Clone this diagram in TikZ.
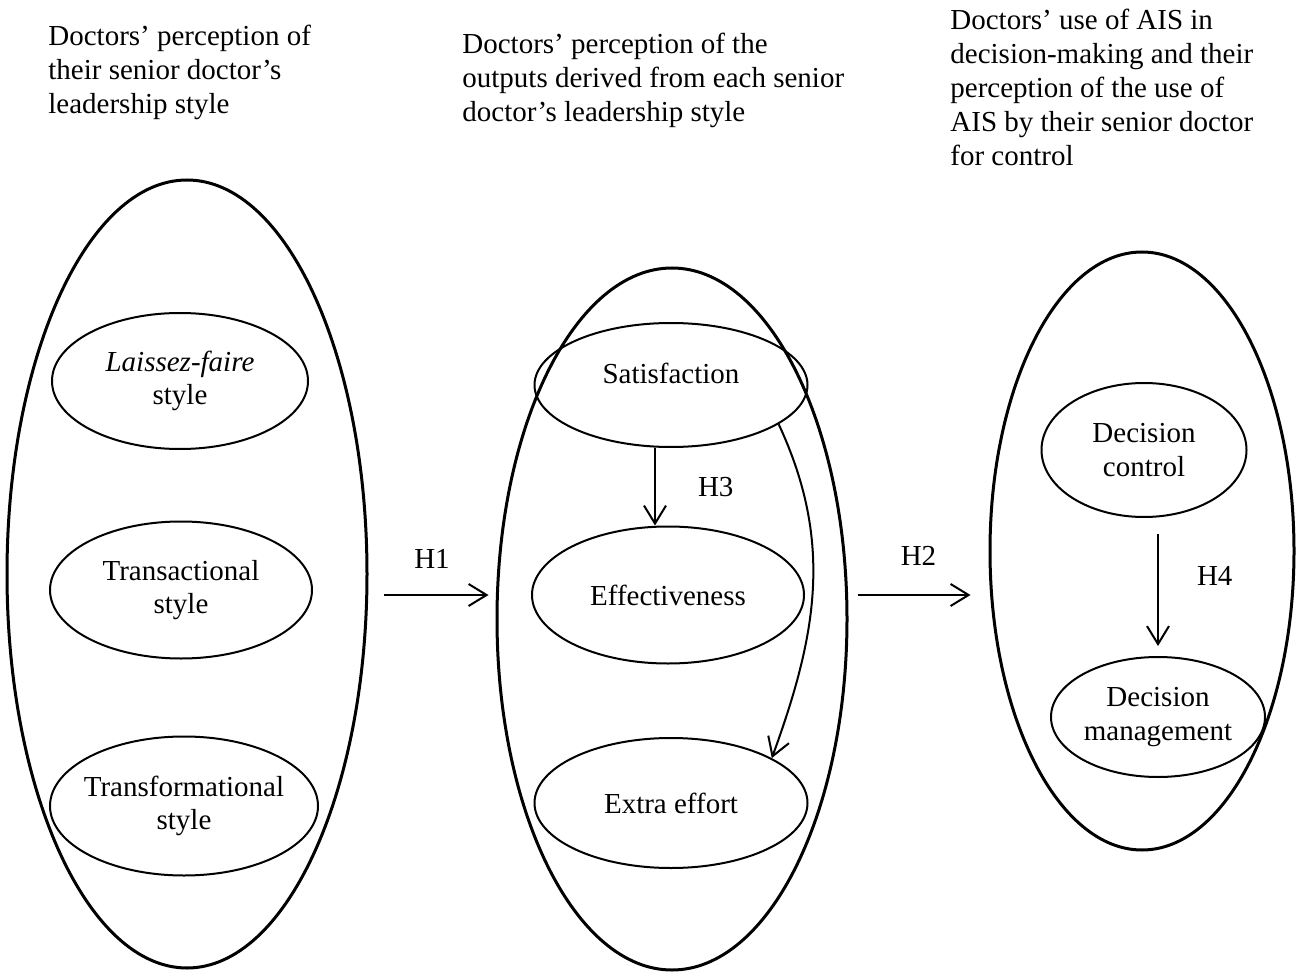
\documentclass[tikz,border=0pt]{standalone}
\usepackage{fontspec}
\setmainfont{Liberation Serif}
\usetikzlibrary{arrows.meta, positioning, shapes.geometric}

\begin{document}
\begin{tikzpicture}[
  x=0.5pt, y=-0.5pt,
  font=\fontsize{14.5}{16.9}\selectfont,
  hdr/.style={anchor=north west, align=left, inner sep=0pt},
  grp/.style={draw, ellipse, line width=1.5pt, inner sep=0pt},
  var/.style={draw, ellipse, line width=1pt, align=center,
              inner xsep=-20pt, inner ysep=0pt},
  hyp/.style={-{Straight Barb[length=9pt, width=11pt]}, line width=1pt},
  hlab/.style={inner sep=0pt},
]
\useasboundingbox (0,0) rectangle (1296,973);

\node[hdr] (hdrstyles) at (48,25) {Doctors' perception of\\ their senior doctor's\\ leadership style};
\node[hdr] (hdroutputs) at (462,33) {Doctors' perception of the\\ outputs derived from each senior\\ doctor's leadership style};
\node[hdr] (hdrais) at (950,9) {Doctors' use of AIS in\\ decision-making and their\\ perception of the use of\\ AIS by their senior doctor\\ for control};

\node[grp, minimum width=180pt, minimum height=394pt] (styles) at (187,574) {};
\node[grp, minimum width=175pt, minimum height=351pt] (outputs) at (672,619) {};
\node[grp, minimum width=152pt, minimum height=299pt] (ais) at (1142,551) {};

\node[var, minimum width=128pt, minimum height=68pt] (laissez) at (180,381) {\textit{Laissez-faire}\\ style};
\node[var, minimum width=131pt, minimum height=68.5pt] (transact) at (181,590) {Transactional\\ style};
\node[var, minimum width=134pt, minimum height=69.5pt] (transform) at (184,806) {Transformational\\ style};

\node[var, minimum width=136.5pt, minimum height=62pt, text depth=12pt] (sat) at (671,385) {Satisfaction};
\node[var, minimum width=136pt, minimum height=68.5pt] (eff) at (668,595) {Effectiveness};
\node[var, minimum width=136.5pt, minimum height=65pt] (ext) at (671,803) {Extra effort};

\node[var, minimum width=102.5pt, minimum height=67pt] (dc) at (1144,450) {Decision\\ control};
\node[var, minimum width=107pt, minimum height=60pt] (dm) at (1158,717) {Decision\\ management};

\draw[hyp, shorten <=7.5pt, shorten >=3.5pt] (styles.east |- eff.west) -- (outputs.west |- eff.west)
  node[hlab, midway, above=13pt] {H1};
\draw[hyp, shorten <=4.5pt, shorten >=9pt] (outputs.east |- eff.west) -- (ais.west |- eff.west)
  node[hlab, midway, above=14.5pt] {H2};
\draw[hyp] ([xshift=-8pt]sat.south) -- ([xshift=-6.5pt]eff.north)
  node[hlab, midway, right=21pt] {H3};
\draw[hyp] (sat.-20) to[out=-65, in=70] (ext.24);
\draw[hyp, shorten <=8pt, shorten >=5pt] (dc.south -| dm.north) -- (dm.north)
  node[hlab, pos=0.42, right=19pt] {H4};
\end{tikzpicture}
\end{document}
